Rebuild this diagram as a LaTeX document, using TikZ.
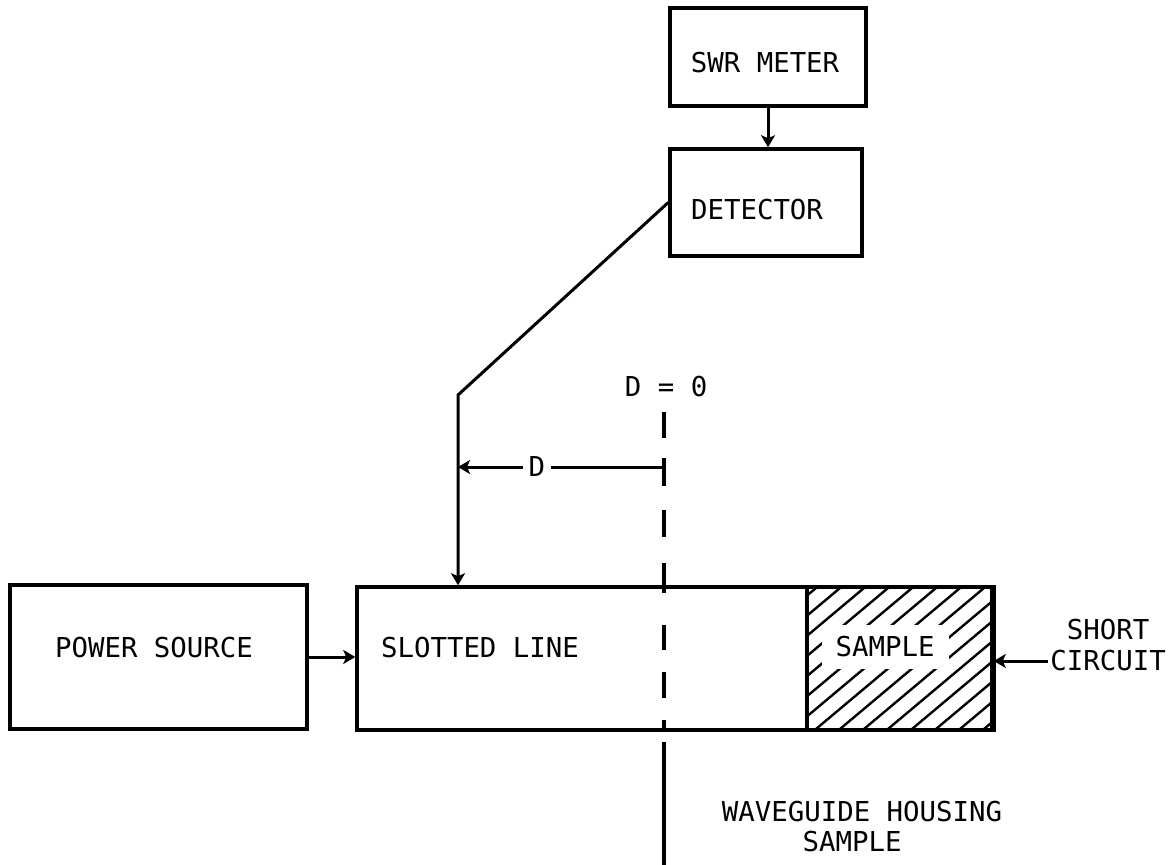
\documentclass[tikz,border=0pt]{standalone}
\usepackage{fontspec}
\newfontfamily\labfont{DejaVu Sans Mono}
\usetikzlibrary{arrows.meta}
\begin{document}
\begin{tikzpicture}[x=0.5pt,y=-0.5pt,
  box/.style={draw, line width=1.75pt, inner sep=0pt},
  lbl/.style={font=\labfont\fontsize{13.7pt}{16pt}\selectfont, inner sep=1pt, text=black},
  conn/.style={line width=1.5pt, -{Stealth[length=6pt,width=7pt,inset=1.5pt]}},
  wire/.style={line width=1.6pt},
  hatch/.style={line width=1.2pt},
]
\useasboundingbox[fill=white] (0,0) rectangle (1170,865);

% boxes
\node[box, minimum width=98pt, minimum height=49pt] (swr) at (768,57) {};
\node[lbl] (swrt) at (765,63) {SWR METER};
\node[box, minimum width=96pt, minimum height=53.5pt] (det) at (766,202.5) {};
\node[lbl] (dett) at (757,210) {DETECTOR};
\node[box, minimum width=148.5pt, minimum height=72pt] (pow) at (158.5,657) {};
\node[lbl] (powt) at (154,648) {POWER SOURCE};
\node[box, minimum width=317.5pt, minimum height=71.5pt] (slot) at (674.5,658.5) {};
\node[lbl] (slott) at (480,648) {SLOTTED LINE};

% sample (hatched)
\coordinate (sampNW) at (807,587);
\coordinate (sampSW) at (807,730);
\begin{scope}
  \clip (sampNW) rectangle (slot.south east);
  \foreach \k in {-7,...,8} \draw[hatch] ({810+24*\k},734) -- ++(320,-268.5);
\end{scope}
\node[lbl, fill=white, inner xsep=7pt, inner ysep=6pt] (sampt) at (885,647) {SAMPLE};
\draw[line width=1.75pt] (sampNW) -- (sampSW);
\draw[line width=1.75pt] (slot.north east) -- (slot.south east);

% reference plane D = 0
\node[lbl] (dzero) at (666,387) {D = 0};
\foreach \a/\b in {412/438,458/486,510/537,563/593,625/650,672/698,720/732}
  \draw[wire] (664,\a) -- (664,\b);
\draw[wire] (664,742) -- (664,865);

% connectors
\draw[conn] (swr.south) -- (swr.south |- det.north);
\draw[conn] (pow.east) -- (pow.east -| slot.west);
\coordinate (corner) at (458,395);
\draw[conn] (det.west) -- (corner) -- (corner |- slot.north);
\coordinate (dR) at (664,467);
\draw[conn] (dR) -- (dR -| corner) node[lbl, fill=white, pos=0.617, inner xsep=3pt] (dlab) {D};

% short circuit
\node[lbl] (short) at (1108,630) {SHORT};
\node[lbl] (circ) at (1108,661) {CIRCUIT};
\draw[conn] (circ.west) -- (circ.west -| slot.east);

% housing label
\node[lbl] (wg1) at (862,812) {WAVEGUIDE HOUSING};
\node[lbl] (wg2) at (852,842) {SAMPLE};
\end{tikzpicture}
\end{document}
